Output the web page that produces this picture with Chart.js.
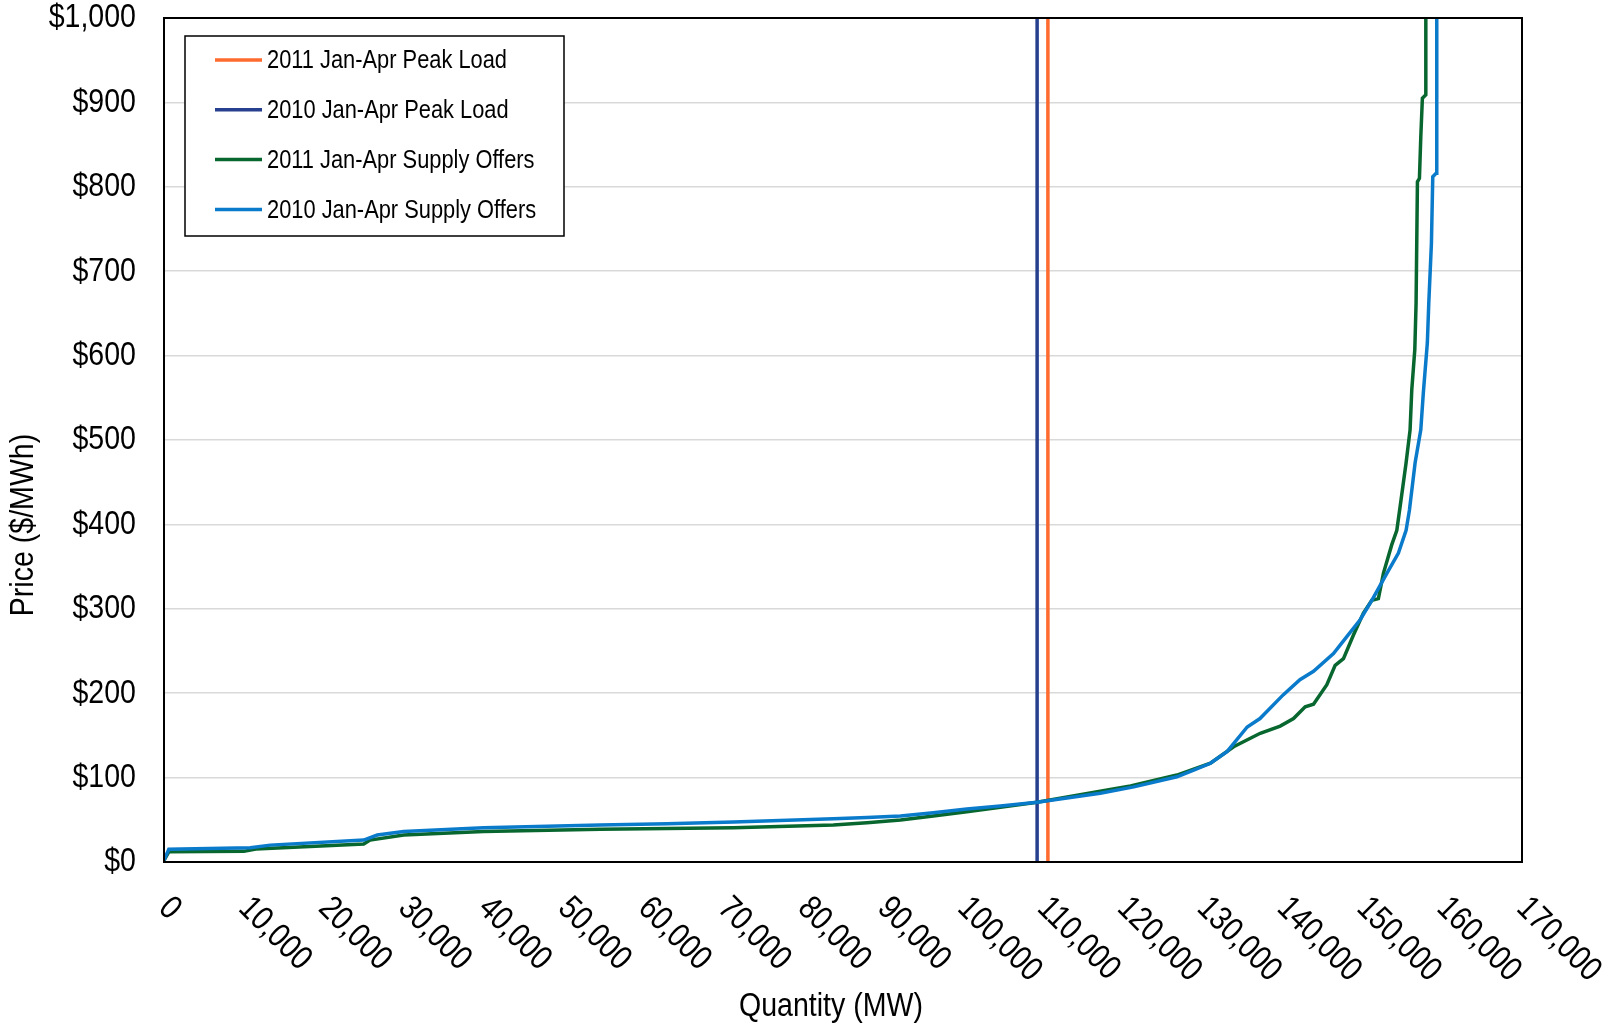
<!DOCTYPE html>
<html>
<head>
<meta charset="utf-8">
<script src="https://cdn.jsdelivr.net/npm/chart.js@4.4.1/dist/chart.umd.min.js"></script>
<style>
  html, body { margin: 0; padding: 0; background: #fff; }
  canvas { display: block; }
</style>
</head>
<body>
<canvas id="c" width="1603" height="1027"></canvas>
<script>
// ─── Data ─────────────────────────────────────────────────
const qty2011 = [0, 600, 10000, 11500, 25000, 25800, 30000, 40000, 54600, 63000, 71300, 83800, 88000,
  92200, 96300, 100500, 104700, 109300, 118450, 121000, 126800, 131000, 133900, 137230, 139730, 141400,
  142860, 143900, 145570, 146610, 147650, 148900, 150150, 151200, 152020, 152650, 153700, 154330,
  154830, 155490, 155990, 156200, 156580, 156740, 156910, 157160, 157330, 157530, 157960, 157960];
const price2011 = [2, 12, 12.6, 15.4, 21.3, 26, 32, 36, 38.7, 39.6, 40.7, 43.8, 46.6,
  49.8, 54.5, 59.6, 64.8, 70.7, 86, 90, 103, 117, 136.6, 152.5, 161, 170,
  184, 187, 210, 233, 241, 269, 295, 310, 312, 342, 376, 393,
  427, 473, 512, 559, 607, 662, 806, 810, 859, 905, 909, 1000];

const qty2010 = [0, 600, 10800, 13300, 25000, 26700, 30000, 40000, 54600, 63000, 71300, 83800, 88000,
  92200, 96300, 100500, 104700, 109300, 117200, 121400, 126800, 128900, 131000, 133100, 135600, 137200,
  140100, 142200, 143900, 146400, 148070, 149740, 151200, 153080, 154530, 155490, 155910, 156620,
  157330, 157650, 158150, 158330, 158660, 158830, 159250, 159330];
const price2010 = [2, 15, 17, 20, 26, 32, 36, 40.5, 43.8, 45.4, 47.4, 51.3, 52.8,
  54.5, 58.4, 62.8, 66.3, 70.7, 81.4, 89, 101, 109, 117, 131, 160, 170,
  198, 216, 226, 247, 267, 287, 310, 342, 366, 393, 417, 473,
  512, 556, 615, 662, 733, 812, 816, 1000];

const peakLoad2011 = 110650;
const peakLoad2010 = 109300;

const seriesLabels = ['2011 Jan-Apr Peak Load', '2010 Jan-Apr Peak Load',
  '2011 Jan-Apr Supply Offers', '2010 Jan-Apr Supply Offers'];
const xTickValues = [0, 10000, 20000, 30000, 40000, 50000, 60000, 70000, 80000,
  90000, 100000, 110000, 120000, 130000, 140000, 150000, 160000, 170000];
const yTickValues = [0, 100, 200, 300, 400, 500, 600, 700, 800, 900, 1000];

// ─── Style ────────────────────────────────────────────────
const FONT = "'Liberation Sans', Arial, sans-serif";
const NARROW = 0.84; // squeeze Arial-metric text to look like Arial Narrow
const COLORS = {
  peak2011: '#ff6a2e',
  peak2010: '#263f8e',
  supply2011: '#08662f',
  supply2010: '#0a7acb',
};
const GRID_COLOR = '#d9d9d9';

const toPoints = (xs, ys) => xs.map((x, i) => ({ x, y: ys[i] }));
const vLine = q => [{ x: q, y: 0 }, { x: q, y: 1000 }];

const datasets = [
  { label: seriesLabels[0], data: vLine(peakLoad2011), borderColor: COLORS.peak2011, order: 3 },
  { label: seriesLabels[1], data: vLine(peakLoad2010), borderColor: COLORS.peak2010, order: 2 },
  { label: seriesLabels[2], data: toPoints(qty2011, price2011), borderColor: COLORS.supply2011, order: 1 },
  { label: seriesLabels[3], data: toPoints(qty2010, price2010), borderColor: COLORS.supply2010, order: 0 },
].map(ds => ({ ...ds, showLine: true, borderWidth: 3.5, pointRadius: 0, tension: 0, backgroundColor: ds.borderColor }));

function narrowText(ctx, text, x, y, size, align, angle = 0) {
  ctx.save();
  ctx.translate(x, y);
  ctx.rotate(angle);
  ctx.scale(NARROW, 1);
  ctx.font = `${size}px ${FONT}`;
  ctx.textAlign = align;
  ctx.textBaseline = 'middle';
  ctx.fillStyle = '#000';
  ctx.fillText(text, 0, 0);
  ctx.restore();
}

// ─── Overlay: frame, legend, tick labels, axis titles ─────
const overlay = {
  id: 'overlay',
  afterDraw(chart) {
    const { ctx, chartArea: a, scales: { x, y } } = chart;
    ctx.save();
    ctx.strokeStyle = '#000';
    ctx.lineWidth = 2;
    ctx.strokeRect(a.left, a.top, a.right - a.left, a.bottom - a.top);

    yTickValues.forEach(v =>
      narrowText(ctx, '$' + v.toLocaleString('en-US'), a.left - 28, y.getPixelForValue(v), 34, 'right'));

    xTickValues.forEach(v =>
      narrowText(ctx, v.toLocaleString('en-US'), x.getPixelForValue(v), a.bottom + 41, 34, 'left', Math.PI / 4));

    narrowText(ctx, 'Quantity (MW)', 831, 1007, 34, 'center');
    narrowText(ctx, 'Price ($/MWh)', 24, 525, 34, 'center', -Math.PI / 2);

    // legend box
    ctx.fillStyle = '#fff';
    ctx.fillRect(185, 36, 379, 200);
    ctx.strokeStyle = '#000';
    ctx.lineWidth = 1.5;
    ctx.strokeRect(185, 36, 379, 200);
    chart.data.datasets.forEach((ds, i) => {
      const yy = 60 + i * 49.8;
      ctx.strokeStyle = ds.borderColor;
      ctx.lineWidth = 3.5;
      ctx.beginPath();
      ctx.moveTo(215, yy);
      ctx.lineTo(262, yy);
      ctx.stroke();
      narrowText(ctx, ds.label, 267, yy + 1, 26, 'left');
    });
    ctx.restore();
  }
};

new Chart(document.getElementById('c'), {
  type: 'scatter',
  data: { datasets },
  options: {
    responsive: false,
    animation: false,
    layout: { autoPadding: false, padding: { top: 18, right: 81, left: 0, bottom: 0 } },
    plugins: { legend: { display: false }, tooltip: { enabled: false } },
    scales: {
      x: {
        type: 'linear', min: 0, max: 170000,
        grid: { display: false, drawTicks: false },
        border: { color: '#000', width: 2 },
        ticks: { display: false, stepSize: 10000 },
        afterFit: s => { s.height = 165; }
      },
      y: {
        min: 0, max: 1000,
        grid: { color: GRID_COLOR, lineWidth: 1.5, drawTicks: false },
        border: { color: '#000', width: 2 },
        ticks: { display: false, stepSize: 100 },
        afterFit: s => { s.width = 164; }
      }
    }
  },
  plugins: [overlay]
});
</script>
</body>
</html>
